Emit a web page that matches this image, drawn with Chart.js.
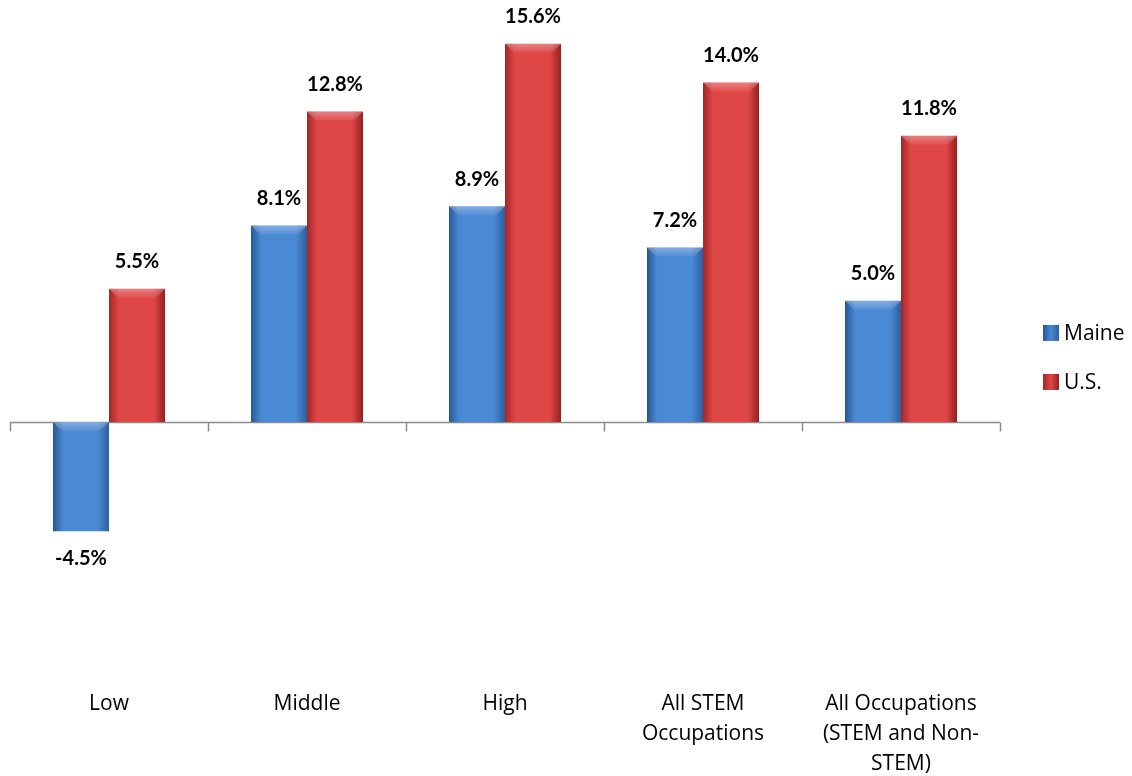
<!DOCTYPE html>
<html>
<head>
<meta charset="utf-8">
<script src="https://cdn.jsdelivr.net/npm/chart.js@4.4.1/dist/chart.umd.min.js"></script>
<style>
  body { margin: 0; background: #fff; }
</style>
</head>
<body>
<canvas id="growthChart" width="1132" height="776"></canvas>
<script>
// Chart values
const categories = ['Low', 'Middle', 'High', ['All STEM', 'Occupations'], ['All Occupations', '(STEM and Non-', 'STEM)']];
const maineValues = [-4.5, 8.1, 8.9, 7.2, 5.0];
const usValues = [5.5, 12.8, 15.6, 14.0, 11.8];
const seriesNames = ['Maine', 'U.S.'];

const labelFont = '"Open Sans", Lato, sans-serif';
const valueFont = 'Lato, "Open Sans", sans-serif';
const groupShare = 0.566;

// colour stops for the bevelled Excel-like look: edge, middle, edge
const palette = {
    Maine: ['#275793', '#4a89d4', '#2c5f9f'],
    'U.S.': ['#a32727', '#df4646', '#962020']
};

// horizontal gradient across each bar, located from the category scale
function barFill(name, seriesIndex) {
    return function (ctx) {
        const x = ctx.chart.scales.x;
        if (!x || ctx.dataIndex === undefined) return palette[name][1];
        const step = (x.right - x.left) / categories.length;
        const w = step * groupShare / 2;
        const center = x.getPixelForValue(ctx.dataIndex);
        const left = seriesIndex === 0 ? center - w : center;
        if (!isFinite(left) || !isFinite(w) || w <= 0) return palette[name][1];
        const g = ctx.chart.ctx.createLinearGradient(left, 0, left + w, 0);
        g.addColorStop(0, palette[name][0]);
        g.addColorStop(0.18, palette[name][1]);
        g.addColorStop(0.8, palette[name][1]);
        g.addColorStop(1, palette[name][2]);
        return g;
    };
}

// zero axis line + category tick marks, bevel highlight, value labels, legend
const decorations = {
    id: 'decorations',
    beforeDatasetsDraw(chart) {
        const c = chart.ctx;
        const x = chart.scales.x;
        const y = chart.scales.y;
        const zero = Math.round(y.getPixelForValue(0)) + 0.5;
        c.save();
        c.strokeStyle = '#8c8c8c';
        c.lineWidth = 1.5;
        c.beginPath();
        c.moveTo(x.left, zero);
        c.lineTo(x.right, zero);
        const step = (x.right - x.left) / categories.length;
        for (let i = 0; i <= categories.length; i++) {
            const px = Math.round(x.left + i * step) + 0.5;
            c.moveTo(px, zero);
            c.lineTo(px, zero + 9);
        }
        c.stroke();
        c.restore();
    },
    afterDatasetsDraw(chart) {
        const c = chart.ctx;
        c.save();
        chart.data.datasets.forEach((ds, di) => {
            const meta = chart.getDatasetMeta(di);
            meta.data.forEach((bar, i) => {
                const v = ds.data[i];
                const left = bar.x - bar.width / 2;
                const right = bar.x + bar.width / 2;
                const top = Math.min(bar.y, bar.base);
                // soft light bevel on the top edge
                const bevel = 9;
                const hl = c.createLinearGradient(0, top, 0, top + bevel);
                hl.addColorStop(0, 'rgba(255,255,255,0.32)');
                hl.addColorStop(1, 'rgba(255,255,255,0.05)');
                c.fillStyle = hl;
                c.beginPath();
                c.moveTo(left, top);
                c.lineTo(right, top);
                c.lineTo(right - bevel, top + bevel);
                c.lineTo(left + bevel, top + bevel);
                c.closePath();
                c.fill();
                // value label
                c.fillStyle = '#000';
                c.font = 'bold 20px ' + valueFont;
                c.textAlign = 'center';
                c.textBaseline = 'middle';
                const ly = v >= 0 ? bar.y - 27 : bar.y + 27;
                c.fillText(v.toFixed(1) + '%', bar.x, ly);
            });
        });
        // legend on the right
        const lx = chart.chartArea.right + 43;
        const midY = (chart.chartArea.top + chart.chartArea.bottom) / 2;
        seriesNames.forEach((name, i) => {
            const cy = midY - 26 + i * 49;
            const g = c.createLinearGradient(lx, 0, lx + 16, 0);
            g.addColorStop(0, palette[name][0]);
            g.addColorStop(0.5, palette[name][1]);
            g.addColorStop(1, palette[name][2]);
            c.fillStyle = g;
            c.fillRect(lx, cy - 8, 16, 16);
            c.fillStyle = '#000';
            c.font = '21px ' + labelFont;
            c.textAlign = 'left';
            c.textBaseline = 'middle';
            c.fillText(name, lx + 21, cy + 1);
        });
        c.restore();
    }
};

new Chart(document.getElementById('growthChart').getContext('2d'), {
    type: 'bar',
    data: {
        labels: categories,
        datasets: [{
            label: seriesNames[0],
            data: maineValues,
            backgroundColor: barFill('Maine', 0),
            borderWidth: 0
        }, {
            label: seriesNames[1],
            data: usValues,
            backgroundColor: barFill('U.S.', 1),
            borderWidth: 0
        }]
    },
    options: {
        responsive: false,
        animation: false,
        layout: {
            padding: { top: 34, left: 10, right: 132, bottom: 0 }
        },
        datasets: {
            bar: { categoryPercentage: groupShare, barPercentage: 1 }
        },
        scales: {
            x: {
                grid: { display: false },
                border: { display: false },
                ticks: {
                    color: '#000',
                    padding: -3,
                    maxRotation: 0,
                    autoSkip: false,
                    font: { family: labelFont, size: 21, lineHeight: 1.43 }
                }
            },
            y: {
                display: false,
                min: -10.8,
                max: 16
            }
        },
        plugins: {
            legend: { display: false },
            tooltip: { enabled: false }
        }
    },
    plugins: [decorations]
});
</script>
</body>
</html>
